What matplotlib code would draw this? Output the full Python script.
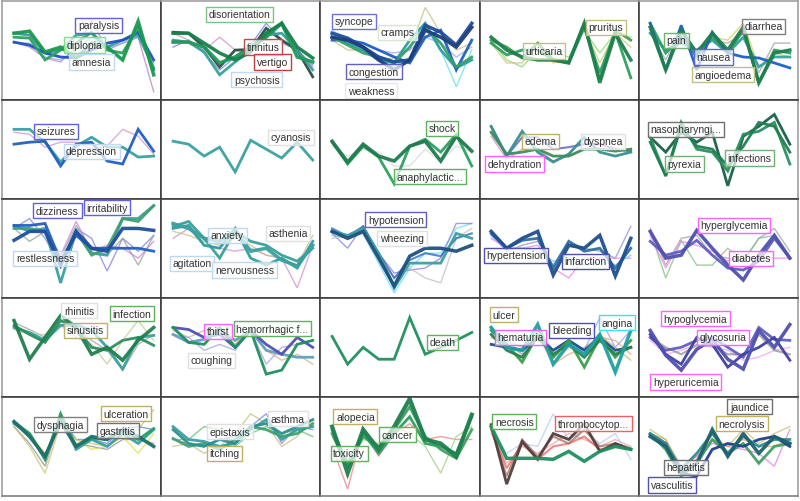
import matplotlib.pyplot as plt

plt.rcParams['font.family'] = ['Liberation Sans', 'DejaVu Sans']

# each panel: 10 time steps per term, level on a 0..100 scale

# row 1
paralysis_vals = [
    [58, 53, 42, 38, 53, 80, 50, 57, 63, 8],
    [57, 57, 43, 40, 50, 63, 52, 57, 63, 37],
    [67, 65, 47, 50, 65, 67, 53, 60, 65, 32],
    [58, 55, 47, 43, 42, 50, 57, 60, 68, 40],
    [63, 62, 40, 50, 57, 68, 50, 47, 73, 30],
    [67, 69, 48, 53, 42, 57, 53, 40, 79, 25],
]
paralysis_terms = ["paralysis", "diplopia", "amnesia"]

disorientation_vals = [
    [67, 60, 50, 63, 50, 53, 60, 57, 50, 33],
    [53, 60, 47, 30, 43, 55, 77, 60, 50, 35],
    [68, 67, 53, 33, 50, 50, 72, 60, 50, 23],
    [60, 58, 48, 25, 38, 50, 65, 67, 50, 30],
    [58, 58, 53, 37, 43, 53, 63, 77, 43, 38],
    [67, 67, 57, 47, 40, 48, 67, 77, 53, 42],
]
disorientation_terms = ["disorientation", "tinnitus", "vertigo", "psychosis"]

syncope_vals = [
    [60, 50, 50, 40, 42, 50, 93, 67, 50, 57],
    [70, 60, 53, 40, 33, 43, 73, 50, 13, 50],
    [63, 57, 57, 50, 47, 50, 63, 57, 43, 53],
    [63, 57, 50, 40, 37, 60, 77, 50, 32, 40],
    [60, 60, 57, 50, 43, 37, 63, 70, 30, 60],
    [63, 55, 47, 43, 37, 53, 73, 57, 33, 43],
    [67, 62, 53, 43, 38, 40, 75, 68, 55, 77],
    [63, 60, 53, 40, 30, 40, 70, 63, 53, 73],
]
syncope_terms = ["syncope", "cramps", "congestion", "weakness"]

urticaria_vals = [
    [60, 40, 33, 50, 47, 43, 70, 47, 67, 63],
    [57, 37, 37, 57, 37, 40, 73, 37, 67, 53],
    [60, 53, 42, 57, 40, 38, 77, 20, 70, 60],
    [57, 45, 50, 50, 40, 37, 73, 27, 68, 22],
    [63, 50, 43, 40, 40, 37, 77, 17, 67, 40],
]
urticaria_terms = ["urticaria", "pruritus"]

diarrhea_vals = [
    [67, 40, 73, 47, 60, 57, 67, 27, 57, 57],
    [70, 50, 60, 50, 63, 60, 77, 33, 47, 43],
    [67, 50, 57, 50, 60, 47, 63, 33, 43, 43],
    [77, 47, 63, 43, 63, 47, 70, 17, 50, 47],
    [77, 30, 75, 30, 68, 47, 43, 42, 37, 32],
    [73, 30, 70, 47, 67, 50, 73, 17, 47, 50],
]
diarrhea_terms = ["pain", "nausea", "angioedema", "diarrhea"]

# row 2
seizures_vals = [
    [67, 65, 52, 57, 57, 50, 53, 70, 63, 45],
    [70, 70, 57, 37, 53, 62, 52, 52, 42, 43],
    [55, 57, 58, 33, 55, 57, 38, 35, 70, 48],
]
seizures_terms = ["seizures", "depression"]

cyanosis_vals = [
    [58, 55, 43, 52, 27, 59, 50, 41, 57, 39],
]
cyanosis_terms = ["cyanosis"]

shock_vals = [
    [53, 43, 50, 47, 33, 33, 50, 37, 53, 47],
    [57, 35, 53, 42, 15, 53, 60, 47, 65, 33],
    [58, 37, 55, 43, 38, 53, 58, 38, 63, 48],
]
shock_terms = ["shock", "anaphylactic..."]

edema_vals = [
    [63, 40, 50, 50, 38, 43, 50, 50, 50, 47],
    [73, 43, 62, 62, 50, 52, 55, 55, 50, 48],
    [73, 43, 68, 47, 37, 45, 62, 47, 43, 47],
    [67, 45, 47, 50, 43, 43, 50, 50, 48, 50],
]
edema_terms = ["edema", "dyspnea", "dehydration"]

infections_vals = [
    [62, 47, 67, 57, 67, 13, 63, 73, 85, 55],
    [62, 23, 77, 50, 47, 28, 65, 68, 77, 35],
    [57, 23, 73, 53, 50, 33, 53, 77, 73, 47],
]
infections_terms = ["nasopharyngi...", "pyrexia", "infections"]

# row 3
dizziness_vals = [
    [70, 80, 60, 33, 70, 60, 27, 60, 47, 63],
    [70, 57, 67, 40, 73, 50, 43, 60, 33, 63],
    [73, 67, 67, 43, 77, 47, 53, 50, 40, 57],
    [73, 67, 70, 15, 67, 45, 43, 80, 80, 93],
    [70, 70, 67, 33, 67, 43, 50, 80, 77, 93],
    [73, 73, 75, 37, 63, 50, 50, 50, 50, 47],
    [58, 67, 67, 33, 67, 50, 47, 70, 70, 68],
]
dizziness_terms = ["dizziness", "irritability", "restlessness"]

anxiety_vals = [
    [60, 70, 53, 50, 47, 50, 43, 40, 10, 53],
    [67, 63, 57, 53, 60, 53, 43, 40, 33, 63],
    [72, 77, 60, 40, 67, 57, 53, 43, 37, 50],
    [70, 73, 53, 50, 70, 40, 33, 40, 30, 57],
    [75, 70, 60, 57, 68, 47, 50, 38, 32, 53],
]
anxiety_terms = ["anxiety", "asthenia", "agitation", "nervousness"]

hypotension_vals = [
    [63, 60, 65, 35, 5, 30, 45, 45, 70, 75],
    [65, 50, 73, 45, 25, 28, 30, 40, 75, 75],
    [60, 63, 70, 40, 20, 30, 20, 15, 60, 70],
    [70, 62, 72, 45, 20, 38, 45, 42, 60, 65],
    [67, 63, 70, 45, 10, 35, 35, 35, 65, 60],
    [67, 60, 67, 40, 12, 42, 50, 50, 47, 53],
]
hypotension_terms = ["hypotension", "wheezing"]

hypertension_vals = [
    [63, 47, 53, 57, 33, 57, 50, 47, 40, 72],
    [60, 50, 50, 53, 30, 20, 40, 40, 40, 40],
    [63, 50, 50, 47, 37, 40, 33, 37, 33, 43],
    [65, 50, 58, 60, 30, 57, 47, 50, 30, 50],
    [67, 50, 60, 67, 23, 53, 50, 63, 22, 60],
]
hypertension_terms = ["hypertension", "infarction"]

hyperglycemia_vals = [
    [70, 33, 60, 63, 43, 40, 37, 60, 70, 47],
    [67, 20, 58, 33, 33, 50, 37, 60, 63, 40],
    [63, 30, 57, 53, 47, 37, 43, 40, 40, 40],
    [57, 43, 47, 58, 43, 30, 28, 37, 60, 40],
    [67, 40, 43, 68, 50, 33, 18, 43, 63, 40],
]
hyperglycemia_terms = ["hyperglycemia", "diabetes"]

# row 4
rhinitis_vals = [
    [75, 68, 60, 73, 70, 57, 47, 27, 53, 63],
    [68, 63, 63, 72, 60, 53, 33, 57, 77, 57],
    [70, 65, 57, 72, 73, 67, 50, 28, 60, 62],
    [72, 63, 55, 77, 70, 50, 47, 57, 60, 52],
    [77, 38, 60, 82, 70, 43, 50, 37, 57, 70],
]
rhinitis_terms = ["rhinitis", "sinusitis", "infection"]

thirst_vals = [
    [67, 60, 67, 67, 53, 70, 47, 37, 43, 33],
    [63, 60, 47, 53, 47, 67, 33, 50, 53, 57],
    [63, 55, 58, 67, 57, 67, 47, 43, 40, 40],
    [70, 68, 60, 63, 50, 67, 53, 43, 60, 50],
    [70, 55, 53, 70, 50, 67, 23, 27, 53, 57],
]
thirst_terms = ["thirst", "hemorrhagic f...", "coughing"]

death_vals = [
    [61, 33, 50, 38, 38, 80, 43, 50, 57, 65],
]
death_terms = ["death"]

ulcer_vals = [
    [67, 57, 50, 63, 33, 43, 50, 60, 57, 43],
    [60, 53, 43, 60, 40, 50, 43, 63, 50, 37],
    [70, 57, 43, 67, 47, 53, 47, 80, 50, 67],
    [53, 50, 47, 60, 47, 57, 47, 60, 47, 50],
    [67, 53, 35, 63, 40, 57, 30, 60, 40, 57],
    [63, 47, 40, 60, 43, 53, 40, 57, 43, 50],
    [70, 50, 47, 73, 33, 53, 43, 63, 25, 67],
]
ulcer_terms = ["ulcer", "hematuria", "bleeding", "angina"]

hypoglycemia_vals = [
    [57, 43, 47, 53, 50, 47, 37, 40, 47, 50],
    [60, 50, 43, 52, 52, 43, 43, 63, 47, 43],
    [60, 47, 50, 57, 60, 50, 40, 70, 58, 57],
    [63, 43, 33, 60, 53, 30, 43, 50, 60, 37],
    [67, 42, 27, 48, 58, 38, 28, 67, 50, 73],
]
hypoglycemia_terms = ["hypoglycemia", "glycosuria", "hyperuricemia"]

# row 5
dysphagia_vals = [
    [70, 53, 30, 77, 53, 50, 47, 57, 57, 53],
    [70, 50, 23, 73, 57, 53, 50, 60, 67, 87],
    [73, 60, 40, 80, 57, 57, 53, 67, 70, 67],
    [73, 63, 43, 70, 57, 47, 50, 60, 43, 63],
    [73, 63, 37, 80, 47, 57, 50, 63, 53, 67],
    [75, 63, 37, 83, 50, 58, 57, 67, 57, 68],
    [75, 60, 40, 75, 50, 60, 57, 67, 60, 50],
]
dysphagia_terms = ["dysphagia", "ulceration", "gastritis"]

asthma_vals = [
    [57, 57, 70, 67, 50, 63, 70, 63, 67, 60],
    [50, 53, 43, 50, 63, 83, 73, 50, 60, 77],
    [57, 53, 50, 57, 60, 70, 83, 53, 70, 67],
    [70, 57, 55, 50, 53, 67, 77, 57, 67, 70],
    [58, 50, 53, 47, 57, 70, 67, 60, 63, 73],
    [67, 53, 50, 57, 53, 70, 73, 63, 70, 77],
]
asthma_terms = ["epistaxis", "itching", "asthma"]

cancer_vals = [
    [50, 7, 67, 40, 63, 73, 57, 60, 57, 57],
    [60, 33, 57, 53, 70, 63, 50, 23, 60, 70],
    [63, 30, 60, 50, 67, 90, 60, 47, 38, 67],
    [67, 33, 63, 43, 63, 80, 53, 50, 43, 80],
    [70, 23, 67, 47, 70, 98, 57, 53, 40, 82],
]
cancer_terms = ["alopecia", "cancer", "toxicity"]

necrosis_vals = [
    [63, 33, 50, 43, 53, 63, 57, 50, 57, 50],
    [67, 43, 53, 50, 83, 57, 67, 53, 63, 37],
    [67, 28, 53, 37, 50, 53, 60, 47, 50, 47],
    [68, 20, 57, 40, 60, 53, 67, 50, 53, 48],
    [72, 12, 55, 37, 63, 57, 73, 45, 53, 47],
    [70, 38, 38, 38, 37, 45, 35, 45, 50, 47],
]
necrosis_terms = ["necrosis", "thrombocytop..."]

jaundice_vals = [
    [67, 57, 30, 40, 57, 50, 67, 53, 63, 70],
    [60, 53, 30, 40, 53, 50, 47, 43, 30, 67],
    [63, 57, 27, 37, 57, 50, 57, 50, 50, 57],
    [63, 47, 20, 33, 57, 43, 53, 33, 50, 53],
    [62, 53, 23, 20, 47, 53, 50, 57, 60, 50],
    [63, 53, 27, 43, 63, 43, 60, 50, 57, 57],
    [60, 50, 23, 33, 67, 40, 63, 43, 60, 53],
]
jaundice_terms = ["jaundice", "necrolysis", "hepatitis", "vasculitis"]

# ---- styles: (colour, width) per line, (x, y, edge colour) per label ----
paralysis_style = [("#c080c0", 1), ("#80b0e0", 1), ("#3aa0a0", 2), ("#2050c0", 2), ("#2ca25f", 2), ("#1a9850", 2.5)]
paralysis_boxes = [(5.45, 75, "#6060e0"), (4.55, 55, "#80e080"), (5.0, 38, "#c0d8f0")]
disorientation_style = [("#d090d0", 1), ("#7080e0", 1), ("#2e4d45", 2), ("#3aa0a0", 2), ("#1f9a5a", 2.5), ("#18804a", 2.5)]
disorientation_boxes = [(4.3, 86, "#80c080"), (5.8, 53, "#b05050"), (6.4, 38, "#c04040"), (5.4, 20, "#c0d8f0")]
syncope_style = [("#c8c080", 1), ("#60e0f0", 1), ("#a0a0f0", 1), ("#2aa0a0", 2), ("#2060c0", 2), ("#3a9f6a", 2), ("#1f4e9a", 2.5), ("#1f3f7f", 2.5)]
syncope_boxes = [(1.4, 79, "#7070d0"), (4.2, 68, "#d8e8d0"), (2.7, 28, "#6060c0"), (2.5, 9, "#e8e8e8")]
urticaria_style = [("#90d070", 1), ("#c8c870", 1), ("#40a050", 2), ("#2ca05f", 2), ("#1f7f4f", 2.5)]
urticaria_boxes = [(3.4, 49, "#c0c080"), (7.4, 73, "#c0c080")]
diarrhea_style = [("#a0a0a0", 1), ("#d0d060", 1), ("#3aa0a0", 2), ("#2ca05f", 2), ("#2060c0", 2), ("#1f7f4f", 2.5)]
diarrhea_boxes = [(1.7, 60, "#70b070"), (4.1, 43, "#6060e0"), (4.7, 25, "#c0c080"), (7.3, 74, "#808080")]

seizures_style = [("#d090d0", 1), ("#3aa0a0", 2), ("#2060c0", 2)]
seizures_boxes = [(2.7, 68, "#6060e0"), (5.0, 48, "#c0d8f0")]
cyanosis_style = [("#3aa0a0", 2)]
cyanosis_boxes = [(7.6, 62, "#e0e0e0")]
shock_style = [("#d8d8d8", 1), ("#2ca05f", 2), ("#1f7a4f", 2.5)]
shock_boxes = [(7.1, 71, "#60b060"), (6.3, 22, "#60b060")]
edema_style = [("#e080e0", 1), ("#5050c0", 1.5), ("#3a9090", 2), ("#3a8f5a", 2)]
edema_boxes = [(3.2, 58, "#c0b060"), (7.2, 58, "#e0e0e0"), (1.5, 35, "#ff60ff")]
infections_style = [("#1a5f4a", 2), ("#2a8f5f", 2), ("#1f7f4f", 2)]
infections_boxes = [(2.3, 70, "#707070"), (2.2, 35, "#70b070"), (6.4, 41, "#70b070")]

dizziness_style = [("#8080e0", 1), ("#90a090", 1), ("#d080d0", 1), ("#3aa0a0", 2), ("#40a070", 2), ("#2060c0", 2), ("#1f4f9f", 2.5)]
dizziness_boxes = [(2.8, 88, "#6060e0"), (6.0, 91, "#6060e0"), (2.0, 40, "#c0d8f0")]
anxiety_style = [("#d090d0", 1), ("#c8c080", 1), ("#3a9f9a", 2), ("#2f9f9f", 2), ("#3aa0a0", 2.5)]
anxiety_boxes = [(3.5, 63, "#c0d8f0"), (7.4, 65, "#e0e0e0"), (1.2, 35, "#c0d8f0"), (4.6, 28, "#c0d8f0")]
hypotension_style = [("#60e0f0", 1), ("#8080e0", 1), ("#c0c0c0", 1), ("#2060c0", 1.5), ("#3aa0a0", 2), ("#1f4f7f", 2.5)]
hypotension_boxes = [(4.1, 79, "#6060c0"), (4.5, 60, "#e0e0e0")]
hypertension_style = [("#9090d0", 1), ("#f080f0", 1), ("#60d0e0", 1), ("#3070a0", 2), ("#1f4f8f", 2.5)]
hypertension_boxes = [(1.6, 43, "#5050b0"), (6.1, 37, "#5050b0")]
hyperglycemia_style = [("#a0a0a0", 1), ("#80c080", 1), ("#f080f0", 1), ("#6060c0", 2), ("#5050b0", 2.5)]
hyperglycemia_boxes = [(5.4, 73, "#ff60ff"), (6.5, 40, "#ff60ff")]

rhinitis_style = [("#a0a0a0", 1), ("#c8c890", 1), ("#3aa0a0", 2), ("#2a8f5f", 2), ("#1f7f4f", 2.5)]
rhinitis_boxes = [(4.2, 87, "#e0e0e0"), (4.6, 67, "#c0b070"), (7.6, 84, "#60b060")]
thirst_style = [("#d0b080", 1), ("#a0a0e0", 1), ("#60a0c0", 2), ("#5050b0", 2), ("#1f8f5f", 2)]
thirst_boxes = [(2.9, 66, "#ff60ff"), (6.4, 69, "#60b060"), (2.5, 37, "#e0e0e0")]
death_style = [("#1f8f5f", 2)]
death_boxes = [(7.1, 55, "#60b060")]
ulcer_style = [("#f0a080", 1), ("#c0c060", 1), ("#a0a0f0", 1), ("#1f4f8f", 2), ("#3a9f4a", 2), ("#2a7f4f", 2), ("#20a0a0", 2.5)]
ulcer_boxes = [(0.8, 83, "#c0b070"), (1.9, 60, "#f060f0"), (5.2, 67, "#5050b0"), (8.1, 75, "#40e0f0")]
hypoglycemia_style = [("#f0a0f0", 1), ("#909090", 1.5), ("#6060c0", 2), ("#4040a0", 2), ("#5050b0", 2.5)]
hypoglycemia_boxes = [(2.9, 79, "#ff60ff"), (4.7, 60, "#ff60ff"), (2.3, 15, "#ff60ff")]

dysphagia_style = [("#909090", 1), ("#c8c070", 1), ("#6080e0", 1), ("#e0e040", 1), ("#3aa0a0", 2), ("#2a9f5f", 2), ("#1f6f6f", 2.5)]
dysphagia_boxes = [(3.0, 72, "#808080"), (7.2, 83, "#c0b060"), (6.7, 66, "#707070")]
asthma_style = [("#60c070", 1), ("#c8c080", 1), ("#8080e0", 1), ("#3aa0a0", 2), ("#40a070", 2), ("#2f8f8f", 2)]
asthma_boxes = [(3.65, 65, "#e0e0e0"), (3.3, 43, "#c0b060"), (7.4, 78, "#e0e0e0")]
cancer_style = [("#f08080", 1), ("#a0d080", 1), ("#40a060", 2), ("#2a9f5f", 2), ("#1f7f4f", 3)]
cancer_boxes = [(1.5, 80, "#c0b060"), (4.2, 62, "#60b060"), (1.1, 43, "#60b060")]
necrosis_style = [("#f0a0a0", 1), ("#b0d0f0", 1), ("#f06060", 1.5), ("#a07060", 1.5), ("#504040", 2), ("#1f8f5f", 2.5)]
necrosis_boxes = [(1.5, 75, "#60b060"), (6.6, 73, "#f06060")]
jaundice_style = [("#c8c070", 1), ("#e080e0", 1), ("#e0a060", 1), ("#40a060", 2), ("#1f3f8f", 2), ("#2f8f8f", 2), ("#1f5f6f", 2.5)]
jaundice_boxes = [(6.4, 90, "#707070"), (5.9, 73, "#c0b060"), (2.3, 29, "#707070"), (1.4, 11, "#5050b0")]

panels = [
    (paralysis_vals, paralysis_style, paralysis_terms, paralysis_boxes),
    (disorientation_vals, disorientation_style, disorientation_terms, disorientation_boxes),
    (syncope_vals, syncope_style, syncope_terms, syncope_boxes),
    (urticaria_vals, urticaria_style, urticaria_terms, urticaria_boxes),
    (diarrhea_vals, diarrhea_style, diarrhea_terms, diarrhea_boxes),
    (seizures_vals, seizures_style, seizures_terms, seizures_boxes),
    (cyanosis_vals, cyanosis_style, cyanosis_terms, cyanosis_boxes),
    (shock_vals, shock_style, shock_terms, shock_boxes),
    (edema_vals, edema_style, edema_terms, edema_boxes),
    (infections_vals, infections_style, infections_terms, infections_boxes),
    (dizziness_vals, dizziness_style, dizziness_terms, dizziness_boxes),
    (anxiety_vals, anxiety_style, anxiety_terms, anxiety_boxes),
    (hypotension_vals, hypotension_style, hypotension_terms, hypotension_boxes),
    (hypertension_vals, hypertension_style, hypertension_terms, hypertension_boxes),
    (hyperglycemia_vals, hyperglycemia_style, hyperglycemia_terms, hyperglycemia_boxes),
    (rhinitis_vals, rhinitis_style, rhinitis_terms, rhinitis_boxes),
    (thirst_vals, thirst_style, thirst_terms, thirst_boxes),
    (death_vals, death_style, death_terms, death_boxes),
    (ulcer_vals, ulcer_style, ulcer_terms, ulcer_boxes),
    (hypoglycemia_vals, hypoglycemia_style, hypoglycemia_terms, hypoglycemia_boxes),
    (dysphagia_vals, dysphagia_style, dysphagia_terms, dysphagia_boxes),
    (asthma_vals, asthma_style, asthma_terms, asthma_boxes),
    (cancer_vals, cancer_style, cancer_terms, cancer_boxes),
    (necrosis_vals, necrosis_style, necrosis_terms, necrosis_boxes),
    (jaundice_vals, jaundice_style, jaundice_terms, jaundice_boxes),
]

fig = plt.figure(figsize=(8, 5.02), dpi=100)
gs = fig.add_gridspec(5, 5, left=0.003, right=0.997, top=0.997, bottom=0.01,
                      wspace=0, hspace=0)

for k, (vals, style, terms, boxes) in enumerate(panels):
    r, c = k // 5, k % 5
    ax = fig.add_subplot(gs[r, c])
    for ys, (col, lw) in zip(vals, style):
        ax.plot(range(len(ys)), ys, color=col, lw=lw,
                alpha=0.95 if lw >= 2 else 0.75, solid_joinstyle='miter')
    for term, (bx, by, ec) in zip(terms, boxes):
        ax.text(bx, by, term, ha='center', va='center', fontsize=7.5,
                color='#333333', zorder=5,
                bbox=dict(boxstyle='square,pad=0.25', fc=(1, 1, 1, 0.7),
                          ec=ec, lw=1))
    ax.set_xlim(-0.75, 9.5)
    ax.set_ylim(0, 100)
    ax.set_xticks([])
    ax.set_yticks([])
    for s in ax.spines.values():
        s.set_color('#404040')
        s.set_linewidth(1.2)
    # outer frame is lighter than the inner grid
    if r == 0:
        ax.spines['top'].set_color('#a0a0a0')
    if c == 0:
        ax.spines['left'].set_color('#a0a0a0')
    if c == 4:
        ax.spines['right'].set_color('#a0a0a0')
    if r == 4:
        ax.spines['bottom'].set_color('#808080')

plt.savefig("out.png")
